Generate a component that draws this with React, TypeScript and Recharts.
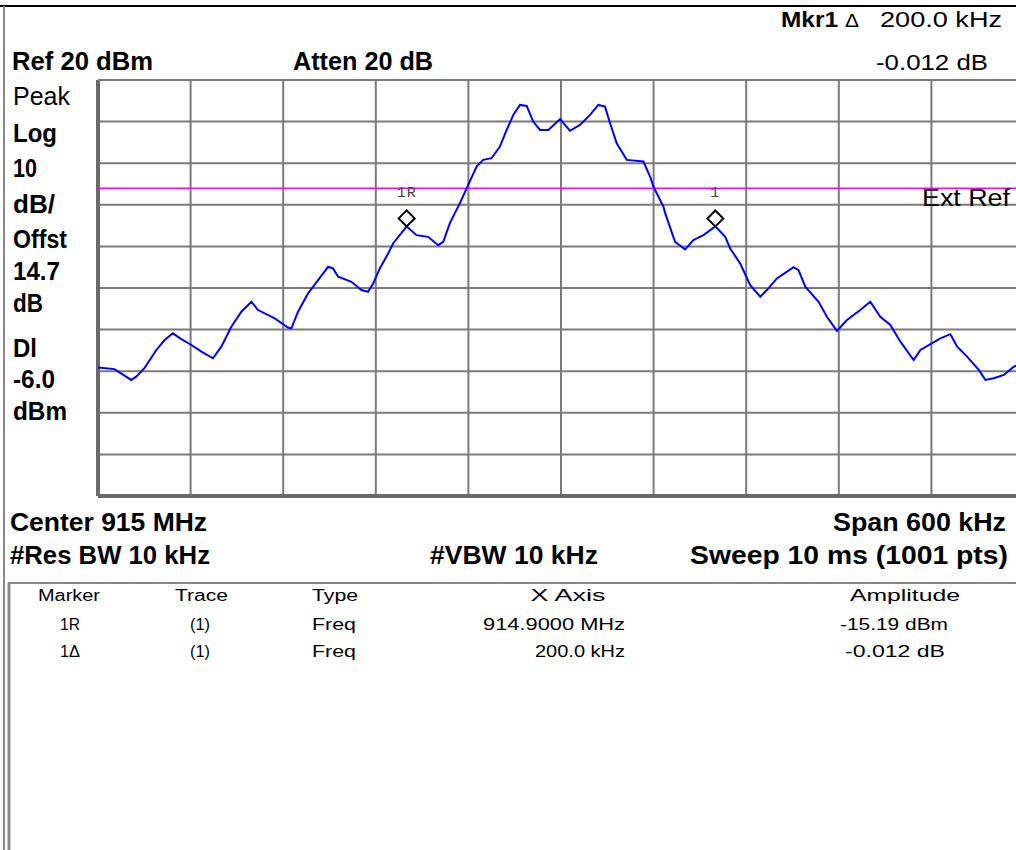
import React from 'react';
import { LineChart, Line, XAxis, YAxis, CartesianGrid, ReferenceLine, ReferenceDot } from 'recharts';

// frequency offset from 915 MHz centre, kHz
const freqOffsetKHz = [
  -300, -289.3, -278.5, -275.2, -269.8, -262.2, -256.8, -251.5, -246.0, -239.5, -233.0, -225.5,
  -220.1, -213.6, -207.1, -200.6, -196.3, -185.5, -176.9, -174.7, -170.4, -163.9, -157.4, -150.9,
  -147.7, -144.4, -135.8, -129.3, -125.0, -121.7, -117.4, -112.0, -108.8, -100, -93.6, -86.1,
  -79.6, -76.3, -72.0, -65.5, -60.1, -54.7, -50.4, -45.0, -39.6, -35.2, -30.9, -26.6, -22.2,
  -18.0, -13.6, -8.2, -0.6, 5.8, 12.3, 18.8, 24.2, 28.5, 31.8, 36.1, 42.6, 53.4, 57.7, 59.9,
  66.4, 67.5, 73.9, 80.4, 85.8, 92.3, 100, 106.4, 109.6, 116.1, 122.6, 129.1, 133.4, 139.9,
  150.7, 153.9, 158.3, 166.9, 172.3, 178.8, 185.3, 193.9, 200.4, 206.9, 213.4, 219.9, 228.5,
  232.9, 245.8, 252.3, 256.7, 263.1, 270.7, 275.0, 280.4, 286.9, 293.4, 300,
];

// trace amplitude, dBm
const levelDbm = [
  -49.1, -49.5, -52.1, -51.3, -49.2, -44.9, -42.5, -40.9, -42.3, -43.7, -45.3, -46.9,
  -44.1, -39.3, -35.7, -33.3, -35.3, -37.3, -39.5, -39.7, -35.7, -31.3, -28.1, -24.9,
  -25.3, -27.3, -28.5, -30.5, -30.9, -28.9, -25.3, -21.7, -19.3, -15.19, -17.3, -17.7,
  -19.7, -18.9, -14.4, -9.6, -5.2, -0.8, 0.8, 1.2, 4.0, 8.0, 11.6, 14.0, 13.75,
  10.0, 8.0, 8.0, 10.6, 7.8, 9.2, 11.6, 14.0, 13.6, 9.6, 4.8, 0.8, 0.4, -3.2, -5.6,
  -10.5, -12.0, -18.9, -20.7, -18.5, -17.3, -15.2, -17.7, -20.5, -24.1, -29.3, -32.1, -30.5, -27.7,
  -25.0, -25.7, -29.7, -33.3, -36.9, -40.3, -37.7, -35.3, -33.3, -36.9, -38.9, -42.9, -47.3,
  -44.9, -42.1, -41.1, -44.1, -46.5, -49.7, -52.1, -51.7, -50.9, -48.9, -48.0,
];

const freqTicks = [-300, -240, -180, -120, -60, 0, 60, 120, 180, 240, 300];
const levelTicks = [-80, -70, -60, -50, -40, -30, -20, -10, 0, 10, 20];
const displayLine = -6.0;

const markers = [
  { name: '1R', freq: -100, level: -15.19 },
  { name: '1', freq: 100, level: -15.202 },
];

const data = freqOffsetKHz.map((f, i) => ({ f, level: levelDbm[i] }));

const FONT = "'Liberation Sans Narrow', 'Liberation Sans', Arial, sans-serif";

const T = ({ x, y, children, size = 25, bold = false, anchor = 'start', len }: any) => (
  <text
    x={x}
    y={y}
    fontFamily={FONT}
    fontSize={size}
    fontWeight={bold ? 700 : 400}
    textAnchor={anchor}
    textLength={len}
    lengthAdjust="spacingAndGlyphs"
    fill="#000"
  >
    {children}
  </text>
);

const MarkerShape = (props: any) => {
  const { cx, cy, name } = props;
  const d = 8;
  const my = cy - 8;
  return (
    <g>
      <path
        d={`M${cx},${my - d} L${cx + d},${my} L${cx},${my + d} L${cx - d},${my} Z`}
        fill="none"
        stroke="#000"
        strokeWidth={2}
      />
      <text
        x={cx}
        y={cy - 29}
        textAnchor="middle"
        fontFamily="'Liberation Mono', 'DejaVu Sans Mono', monospace"
        fontSize={15}
        fill="#444"
        letterSpacing={1}
      >
        {name}
      </text>
    </g>
  );
};

const ExtRefLabel = (props: any) => {
  const { viewBox } = props;
  return (
    <text
      x={1010}
      y={viewBox.y + 18}
      textAnchor="end"
      fontFamily={FONT}
      fontSize={23}
      textLength={88}
      lengthAdjust="spacingAndGlyphs"
      fill="#000"
    >
      Ext Ref
    </text>
  );
};

export default function App() {
  return (
    <div style={{ position: 'absolute', left: 0, top: 0, width: 1016, height: 850, overflow: 'hidden', background: '#fff' }}>
      <div style={{ position: 'absolute', left: 0, top: 0 }}>
        <LineChart width={1030} height={520} data={data} margin={{ top: 80, right: 6, bottom: 24, left: 98 }}>
          <CartesianGrid stroke="#7a7a7a" strokeWidth={2} />
          <XAxis type="number" dataKey="f" domain={[-300, 300]} ticks={freqTicks} hide />
          <YAxis type="number" domain={[-80, 20]} ticks={levelTicks} hide />
          <ReferenceLine x={-300} stroke="#6a6a6a" strokeWidth={4} />
          <ReferenceLine y={-80} stroke="#6a6a6a" strokeWidth={4} />
          <ReferenceLine y={20} stroke="#7a7a7a" strokeWidth={2} />
          <ReferenceLine y={displayLine} stroke="#ff00ff" strokeWidth={1.5} label={<ExtRefLabel />} />
          <Line
            type="linear"
            dataKey="level"
            stroke="#0000ff"
            strokeWidth={2}
            dot={false}
            isAnimationActive={false}
          />
          {markers.map((m) => (
            <ReferenceDot
              key={m.name}
              x={m.freq}
              y={m.level}
              r={8}
              shape={(p: any) => <MarkerShape {...p} name={m.name} />}
            />
          ))}
        </LineChart>
      </div>
      <svg width={1016} height={850} style={{ position: 'absolute', left: 0, top: 0, pointerEvents: 'none' }}>
        <line x1={0} y1={6} x2={1016} y2={6} stroke="#000" strokeWidth={2} />
        <line x1={4} y1={6} x2={4} y2={850} stroke="#888" strokeWidth={2} />
        <line x1={8} y1={583} x2={1016} y2={583} stroke="#888" strokeWidth={2} />
        <line x1={9} y1={583} x2={9} y2={850} stroke="#888" strokeWidth={3} />

        <T x={781} y={27} bold size={22} len={57}>Mkr1</T>
        <T x={845} y={27} size={19} len={14}>Δ</T>
        <T x={880} y={27} size={22} len={122}>200.0 kHz</T>
        <T x={876} y={70} size={22} len={112}>-0.012 dB</T>
        <T x={12} y={70} bold len={141}>Ref 20 dBm</T>
        <T x={293} y={70} bold len={140}>Atten 20 dB</T>

        <T x={13} y={105} len={57}>Peak</T>
        <T x={13} y={142} bold len={44}>Log</T>
        <T x={13} y={177} bold len={24}>10</T>
        <T x={13} y={213} bold len={42}>dB/</T>
        <T x={13} y={248} bold len={54}>Offst</T>
        <T x={13} y={280} bold len={47}>14.7</T>
        <T x={13} y={312} bold len={30}>dB</T>
        <T x={13} y={357} bold len={24}>Dl</T>
        <T x={13} y={388} bold len={42}>-6.0</T>
        <T x={13} y={420} bold len={54}>dBm</T>

        <T x={10} y={531} bold len={197}>Center 915 MHz</T>
        <T x={1006} y={531} bold anchor="end" len={173}>Span 600 kHz</T>
        <T x={10} y={564} bold len={200}>#Res BW 10 kHz</T>
        <T x={430} y={564} bold len={168}>#VBW 10 kHz</T>
        <T x={1008} y={564} bold anchor="end" len={318}>Sweep 10 ms (1001 pts)</T>

        <T x={38} y={601} size={16} len={62}>Marker</T>
        <T x={175} y={601} size={16} len={53}>Trace</T>
        <T x={312} y={601} size={16} len={46}>Type</T>
        <T x={568} y={601} size={16} anchor="middle" len={75}>X Axis</T>
        <T x={905} y={601} size={16} anchor="middle" len={110}>Amplitude</T>

        <T x={60} y={630} size={16} len={20}>1R</T>
        <T x={190} y={630} size={16} len={20}>(1)</T>
        <T x={312} y={630} size={16} len={44}>Freq</T>
        <T x={625} y={630} size={16} anchor="end" len={142}>914.9000 MHz</T>
        <T x={948} y={630} size={16} anchor="end" len={108}>-15.19 dBm</T>

        <T x={60} y={657} size={16} len={20}>1Δ</T>
        <T x={190} y={657} size={16} len={20}>(1)</T>
        <T x={312} y={657} size={16} len={44}>Freq</T>
        <T x={625} y={657} size={16} anchor="end" len={90}>200.0 kHz</T>
        <T x={945} y={657} size={16} anchor="end" len={100}>-0.012 dB</T>
      </svg>
    </div>
  );
}
